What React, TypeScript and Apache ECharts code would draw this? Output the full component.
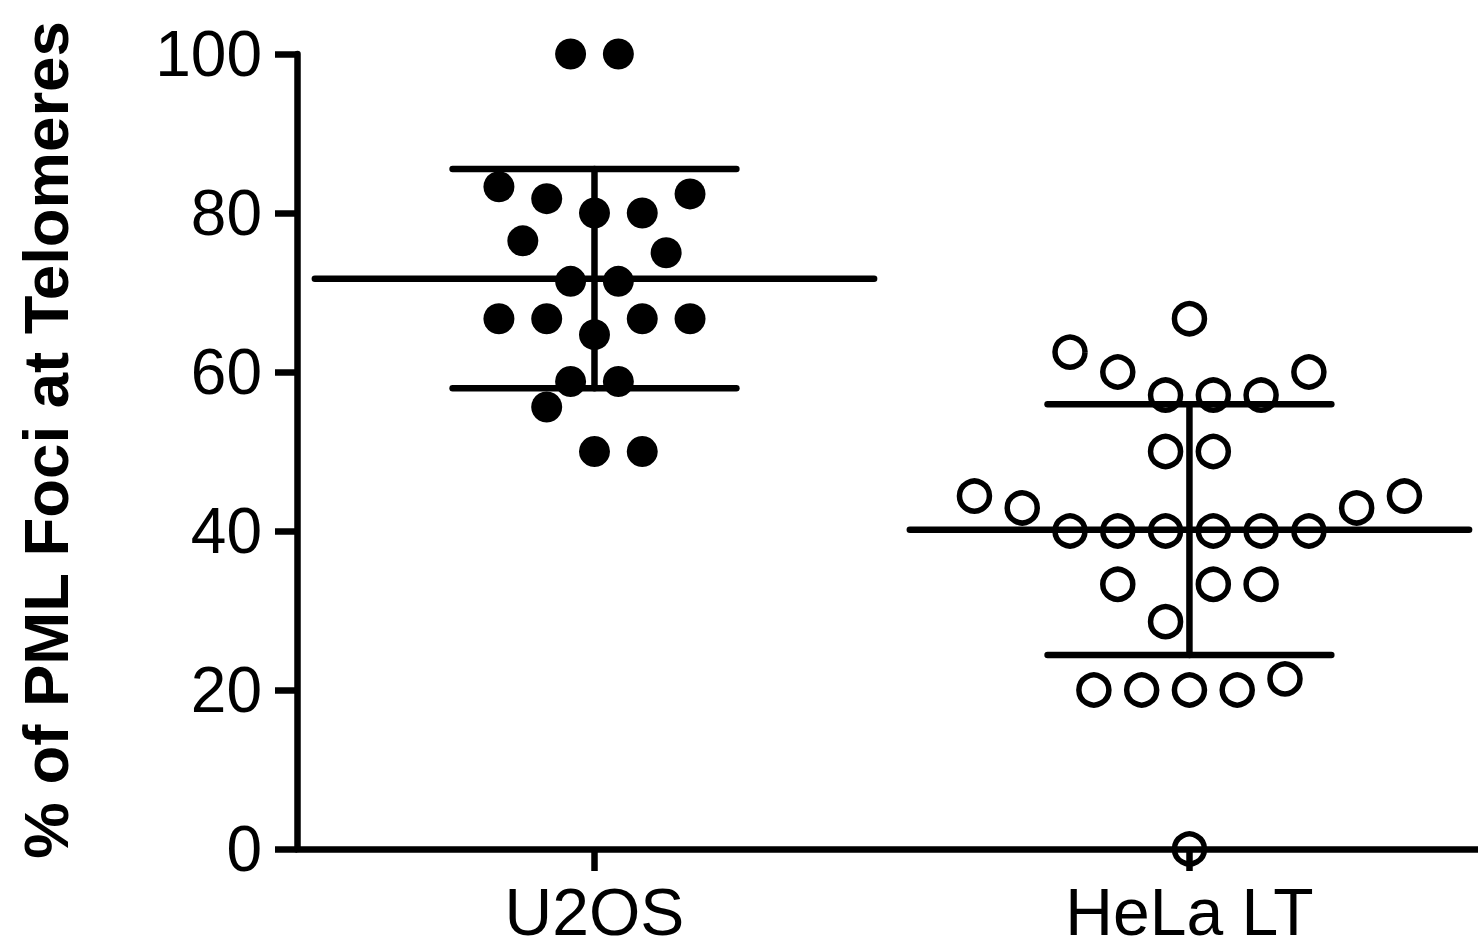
import React, { useEffect, useRef } from "react";
import * as echarts from "echarts";

// ---- data ----
const categories = ["U2OS", "HeLa LT"];
const categoryX = [1, 3];

const u2osValues = [100, 100, 83.3, 81.8, 80, 80, 82.4, 76.5, 75, 71.4, 71.4, 66.7, 66.7, 66.7, 66.7, 64.7, 58.8, 58.8, 55.6, 50, 50];
// column-scatter slot of each point (in half dot-widths from the column centre)
const u2osSlots = [-1, 1, -4, -2, 0, 2, 4, -3, 3, -1, 1, -4, -2, 2, 4, 0, -1, 1, -2, 0, 2];

const helaValues = [66.7, 62.5, 60, 60, 57.1, 57.1, 57.1, 50, 50, 44.4, 44.4, 42.9, 42.9, 40, 40, 40, 40, 40, 40, 33.3, 33.3, 33.3, 28.6, 21.4, 20, 20, 20, 20, 0];
const helaSlots = [0, -5, -3, 5, -1, 1, 3, -1, 1, -9, 9, -7, 7, -5, -3, -1, 1, 3, 5, -3, 1, 3, -1, 4, -4, -2, 0, 2, 0];

const yTicks = [0, 20, 40, 60, 80, 100];
const yTitle = "% of PML Foci at Telomeres";

// ---- layout constants ----
const SLOT = 0.0803; // x-units per half dot width
const MEAN_HALF = 0.94;
const SD_HALF = 0.477;
const LW = 6.5;
const FONT = '"Liberation Sans", Arial, Helvetica, sans-serif';

function meanSd(v: number[]) {
  const m = v.reduce((a, b) => a + b, 0) / v.length;
  const s = Math.sqrt(v.reduce((a, b) => a + (b - m) * (b - m), 0) / (v.length - 1));
  return [m, s];
}

export default function App() {
  const ref = useRef<HTMLDivElement>(null);
  useEffect(() => {
    if (!ref.current) return;
    const chart = echarts.init(ref.current, null, { renderer: "svg" });
    const [m1, s1] = meanSd(u2osValues);
    const [m2, s2] = meanSd(helaValues);
    const u2osData = u2osValues.map((v, i) => [categoryX[0] + u2osSlots[i] * SLOT, v]);
    const helaData = helaValues.map((v, i) => [categoryX[1] + helaSlots[i] * SLOT, v]);

    chart.setOption({
      animation: false,
      backgroundColor: "#ffffff",
      grid: { left: 297, right: 0, top: 54, bottom: 101, containLabel: false },
      xAxis: {
        type: "value",
        min: 0,
        max: 3.97,
        splitLine: { show: false },
        axisLine: { show: true, lineStyle: { color: "#000", width: LW } },
        axisTick: { show: true, customValues: categoryX, length: 22, lineStyle: { color: "#000", width: LW } },
        axisLabel: {
          customValues: categoryX,
          formatter: (v: number) => {
            const i = categoryX.indexOf(Math.round(v));
            return i >= 0 ? categories[i] : "";
          },
          color: "#000",
          fontSize: 66,
          fontFamily: FONT,
          margin: 30,
        },
      },
      yAxis: {
        type: "value",
        min: yTicks[0],
        max: yTicks[yTicks.length - 1],
        interval: 20,
        splitLine: { show: false },
        axisLine: { show: true, lineStyle: { color: "#000", width: LW } },
        axisTick: { show: true, length: 22, lineStyle: { color: "#000", width: LW } },
        axisLabel: { color: "#000", fontSize: 64, fontFamily: FONT, margin: 35 },
      },
      graphic: [
        {
          type: "text",
          x: 46,
          y: 440,
          rotation: Math.PI / 2,
          style: {
            text: yTitle,
            font: `bold 63.5px ${FONT}`,
            fill: "#000",
            align: "center",
            verticalAlign: "middle",
            textAlign: "center",
            textVerticalAlign: "middle",
          },
        },
      ],
      series: [
        {
          type: "custom",
          clip: false,
          data: [
            [categoryX[0], m1, s1],
            [categoryX[1], m2, s2],
          ],
          renderItem: (params: any, api: any) => {
            const cx = api.value(0);
            const m = api.value(1);
            const sd = api.value(2);
            const p = (x: number, y: number) => api.coord([x, y]);
            const mk = (a: number[], b: number[]) => ({
              type: "line",
              shape: { x1: a[0], y1: a[1], x2: b[0], y2: b[1] },
              style: { stroke: "#000", lineWidth: LW, lineCap: "round" },
            });
            return {
              type: "group",
              children: [
                mk(p(cx - MEAN_HALF, m), p(cx + MEAN_HALF, m)),
                mk(p(cx - SD_HALF, m + sd), p(cx + SD_HALF, m + sd)),
                mk(p(cx - SD_HALF, m - sd), p(cx + SD_HALF, m - sd)),
                mk(p(cx, m - sd), p(cx, m + sd)),
              ],
            };
          },
          z: 1,
        },
        {
          type: "scatter",
          name: categories[0],
          data: u2osData,
          symbol: "circle",
          symbolSize: 31,
          clip: false,
          itemStyle: { color: "#000", opacity: 1 },
          z: 2,
        },
        {
          type: "scatter",
          name: categories[1],
          data: helaData,
          symbol: "circle",
          symbolSize: 30,
          clip: false,
          itemStyle: { color: "transparent", borderColor: "#000", borderWidth: 5.5, opacity: 1 },
          z: 2,
        },
      ],
    });
    return () => chart.dispose();
  }, []);
  return <div ref={ref} style={{ position: "fixed", left: 0, top: 0, width: 1478, height: 950, background: "#fff" }} />;
}
